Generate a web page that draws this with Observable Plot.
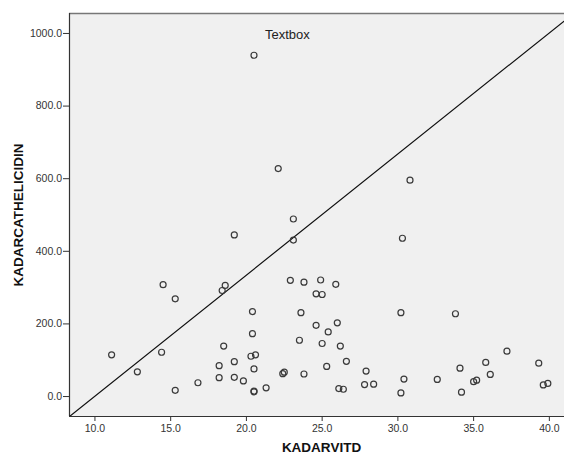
<!DOCTYPE html>
<html>
<head>
<meta charset="utf-8">
<script src="https://cdn.jsdelivr.net/npm/d3@7"></script>
<script src="https://cdn.jsdelivr.net/npm/@observablehq/plot@0.6"></script>
<style>
  html, body { margin: 0; padding: 0; background: #fff; overflow: hidden; }
</style>
</head>
<body>
<div id="chart"></div>
<script>
// Data
const vitD = [11.1, 12.8, 14.4, 14.5, 15.3, 15.3, 16.8, 18.2, 18.2, 18.4, 18.6, 18.5, 19.2, 19.2, 19.2, 19.8,
  20.4, 20.4, 20.3, 20.6, 20.5, 20.5, 20.5, 20.5, 21.3, 22.1, 22.5, 22.4, 22.9, 23.1, 23.1, 23.5, 23.6, 23.8, 23.8,
  24.6, 24.6, 24.9, 25.0, 25.0, 25.3, 25.4, 25.9, 26.0, 26.2, 26.1, 26.4, 26.6, 27.8, 27.9, 28.4,
  30.2, 30.3, 30.4, 30.2, 30.8, 32.6, 33.8, 34.1, 34.2, 35.0, 35.2, 35.8, 36.1, 37.2, 39.3, 39.6, 39.9];
const cathelicidin = [115, 68, 122, 308, 269, 17, 38, 85, 52, 292, 306, 139, 445, 96, 53, 43,
  234, 173, 111, 115, 76, 15, 13, 940, 24, 628, 67, 63, 320, 489, 431, 155, 231, 315, 62,
  283, 196, 321, 281, 146, 83, 178, 309, 203, 139, 22, 20, 97, 33, 70, 34,
  231, 436, 48, 10, 596, 47, 228, 78, 12, 41, 45, 94, 61, 125, 92, 32, 36];

const xTicks = [10, 15, 20, 25, 30, 35, 40];
const yTicks = [0, 200, 400, 600, 800, 1000];
const xDomain = [8.32, 41.0];
const yDomain = [-55, 1055];

// Reference (diagonal) line endpoints, in data units
const refX = [8.32, 41.6];
const refY = [-55, 1055];

const annotation = ["Textbox"];
const annotationX = [22.7];
const annotationY = [997];

const xTitle = "KADARVITD";
const yTitle = "KADARCATHELICIDIN";

const points = vitD.map((v, i) => ({x: v, y: cathelicidin[i]}));
const ref = refX.map((v, i) => ({x: v, y: refY[i]}));
const notes = annotation.map((t, i) => ({t, x: annotationX[i], y: annotationY[i]}));

const chart = Plot.plot({
  width: 564,
  height: 458,
  marginLeft: 69,
  marginRight: 0,
  marginTop: 13,
  marginBottom: 42,
  style: {fontFamily: "'Liberation Sans', Arial, sans-serif", fontSize: "10.5px", color: "#333", background: "#fff"},
  x: {domain: xDomain, ticks: xTicks, tickFormat: d3.format(".1f"), tickSize: 5, tickPadding: 3, label: null},
  y: {domain: yDomain, ticks: yTicks, tickFormat: d3.format(".1f"), tickSize: 6, tickPadding: 1.5, label: null},
  marks: [
    Plot.frame({fill: "#f0f0f0", stroke: null}),
    Plot.ruleY([yDomain[1]], {stroke: "#777", strokeWidth: 1.5}),
    Plot.ruleX([xDomain[0]], {stroke: "#333", strokeWidth: 1.2}),
    Plot.ruleY([yDomain[0]], {stroke: "#333", strokeWidth: 1.2}),
    Plot.line(ref, {x: "x", y: "y", stroke: "#111", strokeWidth: 1.2, clip: true}),
    Plot.dot(points, {x: "x", y: "y", r: 3, stroke: "#3a3a3a", strokeWidth: 1.2, fill: "none"}),
    Plot.text(notes, {x: "x", y: "y", text: "t", fontSize: 13, fill: "#222", textAnchor: "middle"}),
    Plot.text([xTitle], {frameAnchor: "bottom", dx: 4.5, dy: 35, text: d => d, fontSize: 13.5, fontWeight: "bold", fill: "#111", textAnchor: "middle"}),
    Plot.text([yTitle], {frameAnchor: "left", dx: -50.5, rotate: -90, text: d => d, fontSize: 13.5, fontWeight: "bold", fill: "#111", textAnchor: "middle", lineAnchor: "middle"})
  ]
});
document.getElementById("chart").appendChild(chart);
</script>
</body>
</html>
